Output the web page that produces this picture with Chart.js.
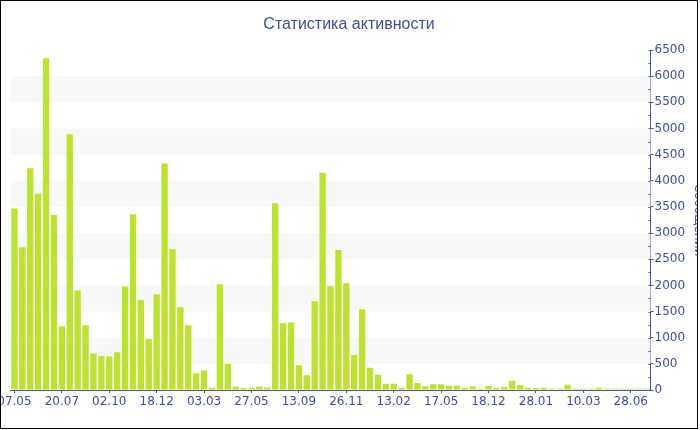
<!DOCTYPE html>
<html>
<head>
<meta charset="utf-8">
<script src="https://cdn.jsdelivr.net/npm/chart.js@4.4.0/dist/chart.umd.min.js"></script>
<style>
html, body { margin: 0; padding: 0; background: #fff; overflow: hidden; }
#box { position: absolute; left: 0; top: 0; width: 698px; height: 429px; box-sizing: border-box; border: 1px solid #000; overflow: hidden; }
#wrap { position: absolute; left: 0; top: 0; width: 704px; height: 427px; }
</style>
</head>
<body>
<div id="box"><div id="wrap"><canvas id="chart"></canvas></div></div>
<script>
// messages per period
var messages = [
    3470, 2730, 4240, 3750, 6340, 3350, 1220, 4890, 1900, 1240,
    700, 650, 640, 720, 1980, 3360, 1720, 975, 1830, 4330,
    2690, 1580, 1240, 320, 372, 45, 2020, 500, 60, 38,
    45, 60, 50, 3570, 1275, 1290, 472, 281, 1695, 4155,
    1982, 2676, 2040, 669, 1542, 427, 290, 121, 121, 45,
    300, 134, 70, 108, 108, 82, 82, 45, 70, 25,
    76, 38, 57, 172, 95, 45, 38, 45, 25, 25,
    101, 25, 25, 25, 45, 25, 25, 25, 25, 25,
    25
];

// dates shown under every 6th bar
var tickLabels = ['07.05', '20.07', '02.10', '18.12', '03.03', '27.05', '13.09',
                  '26.11', '13.02', '17.05', '18.12', '28.01', '10.03', '28.06'];
var tickEvery = 6;

// categories: only the labelled ones carry text
var labels = [];
for (var i = 0; i < messages.length; i++) {
    labels.push(i % tickEvery == 0 ? tickLabels[i / tickEvery] : '');
}

var axisColor = '#4656a0';
var textColor = '#3f4f96';

// light bands every other 500 and small ticks on the inside of the axis
var bands = {
    id: 'bands',
    beforeDatasetsDraw: function(chart) {
        var ctx = chart.ctx, a = chart.chartArea, y = chart.scales.y;
        ctx.save();
        ctx.fillStyle = '#f8f8f8';
        for (var v = 500; v < 6500; v += 1000) {
            var top = y.getPixelForValue(v + 500), bot = y.getPixelForValue(v);
            ctx.fillRect(a.left, top, a.right - a.left, bot - top);
        }
        ctx.strokeStyle = axisColor;
        ctx.lineWidth = 1;
        for (var v = 250; v <= 6500; v += 250) {
            var py = Math.round(y.getPixelForValue(v)) + 0.5;
            ctx.beginPath();
            ctx.moveTo(a.right - 2, py);
            ctx.lineTo(a.right, py);
            ctx.stroke();
        }
        ctx.restore();
    }
};

var tickFont = { family: 'DejaVu Sans', size: 12 };

var chart = new Chart('chart', {
    type: 'bar',
    plugins: [bands],
    data: {
        labels: labels,
        datasets: [{
            label: 'Сообщений',
            data: messages,
            backgroundColor: '#bde22f',
            borderWidth: 0,
            categoryPercentage: 1.0,
            barPercentage: 0.8
        }]
    },
    options: {
        responsive: true,
        maintainAspectRatio: false,
        animation: false,
        // right padding keeps the title centred where the original has it
        layout: { padding: { left: 9.5, right: 17.5, top: 0, bottom: 0 } },
        plugins: {
            legend: { display: false },
            tooltip: { enabled: false },
            title: {
                display: true,
                text: 'Статистика активности',
                color: textColor,
                font: { family: 'Liberation Sans', size: 16, weight: 'normal' },
                padding: { top: 14.4, bottom: 15.4 }
            }
        },
        scales: {
            x: {
                offset: true,
                grid: {
                    offset: false,
                    drawOnChartArea: false,
                    tickLength: 3,
                    tickColor: function(c) { return c.index % tickEvery == 0 ? axisColor : 'rgba(0,0,0,0)'; }
                },
                border: { color: axisColor },
                ticks: {
                    autoSkip: false,
                    maxRotation: 0,
                    minRotation: 0,
                    padding: 2,
                    color: textColor,
                    font: tickFont
                },
                afterFit: function(s) {
                    s.height = 38;
                    s.paddingLeft = 0;
                    s.paddingRight = 0;
                }
            },
            y: {
                position: 'right',
                min: 0,
                max: 6500,
                grid: { drawOnChartArea: false, tickLength: 3, tickColor: axisColor },
                border: { color: axisColor },
                ticks: {
                    stepSize: 500,
                    padding: 1,
                    color: textColor,
                    font: tickFont,
                    callback: function(v) { return String(v); }
                },
                title: {
                    display: true,
                    text: 'Сообщений',
                    color: textColor,
                    font: { family: 'DejaVu Sans', size: 12 },
                    padding: { top: -17.5, bottom: 0 }
                },
                afterFit: function(s) {
                    s.width = 37;
                    s.paddingTop = 0;
                    s.paddingBottom = 0;
                }
            }
        }
    }
});
</script>
</body>
</html>
